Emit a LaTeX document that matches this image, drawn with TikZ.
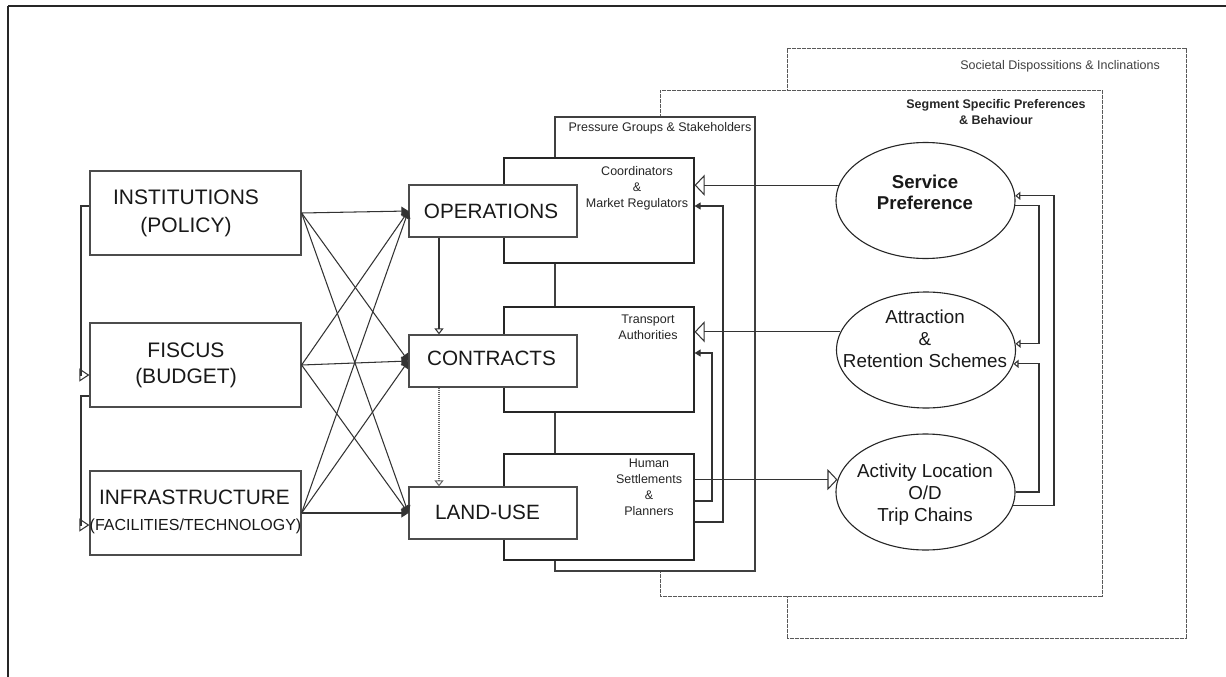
\documentclass[tikz,border=0pt]{standalone}
\usepackage{fontspec}
\setmainfont{Liberation Sans}
\usetikzlibrary{arrows.meta,shapes.geometric}
\begin{document}
\begin{tikzpicture}[x=1pt,y=-1pt,
  ln/.style={draw=black!80, line width=1.05pt},
  box/.style={rectangle, draw=black!70, line width=1.2pt, fill=white, inner sep=0pt},
  sbox/.style={rectangle, draw=black!85, line width=1.2pt, fill=white, inner sep=0pt, minimum width=190pt},
  layer/.style={rectangle, draw=black!65, line width=0.9pt, dash pattern=on 0.8pt off 0.45pt, fill=white, inner sep=0pt},
  ell/.style={ellipse, draw=black!85, line width=1.1pt, fill=white, minimum width=179pt, minimum height=116pt, inner sep=0pt},
  bigt/.style={font=\fontsize{21}{28}\selectfont, align=center, inner sep=0pt, text=black!90},
  midt/.style={font=\fontsize{20.7}{24}\selectfont, align=center, inner sep=0pt, text=black!90},
  smallt/.style={font=\fontsize{12.5}{16}\selectfont, align=center, inner sep=0pt, text=black!85},
  ellt/.style={font=\fontsize{18.8}{22}\selectfont, align=center, inner sep=0pt, text=black!90},
  crossarr/.style={ln, -{Triangle[length=7pt,width=9pt]}},
  bigopen/.style={ln, -{Triangle[open,length=10pt,width=21pt]}},
  smfill/.style={ln, -{Triangle[length=6pt,width=7pt]}},
  smopen/.style={ln, -{Triangle[open,length=5pt,width=8pt]}},
  vopen/.style={ln, -{Triangle[open,length=6pt,width=9pt]}},
  lopen/.style={ln, -{Triangle[open,length=10pt,width=13pt]}}
]
\useasboundingbox (0,0) rectangle (1226,677);
\fill[white] (0,0) rectangle (1226,677);
% outer frame
\draw[black!85, line width=1.8pt] (8,6) -- (1226,6);
\draw[black!85, line width=1.3pt] (8,6) -- (8,677);

% layers
\node[layer, minimum width=399pt, minimum height=590pt] (soc) at (986.5,343) {};
\node[layer, minimum width=442pt, minimum height=506pt] (seg) at (881,343) {};
\node[box, draw=black!75, minimum width=200pt, minimum height=454pt] (pres) at (655,344) {};

\node[smallt, anchor=east, text=black!75] (lsoc) at (1160,66) {Societal Dispossitions \& Inclinations};
\node[smallt, font=\fontsize{12.5}{16}\selectfont\bfseries] (lseg) at (996,112) {Segment Specific Preferences\\\& Behaviour};
\node[smallt] (lpres) at (660,128) {Pressure Groups \& Stakeholders};

% ellipses
\node[ell] (sp) at (925.5,200.5) {};
\node[ell] (ar) at (926,350) {};
\node[ell] (ac) at (925.5,492) {};
\node[ellt, font=\fontsize{18.6}{21}\selectfont\bfseries] (tsp) at (925,192.5) {Service\\Preference};
\node[ellt] (tar) at (925,339) {Attraction\\\&\\Retention Schemes};
\node[ellt] (tac) at (925,495) {Activity Location\\O/D\\Trip Chains};

% stakeholder boxes
\node[sbox, minimum height=105pt] (s1) at (599,210.5) {};
\node[sbox, minimum height=105pt] (s2) at (599,359.5) {};
\node[sbox, minimum height=106pt] (s3) at (599,507) {};
\node[smallt] (l1) at (637,188) {Coordinators\\\&\\Market Regulators};
\node[smallt] (l2) at (648,327.5) {Transport\\Authorities};
\node[smallt] (l3) at (649,487) {Human\\Settlements\\\&\\Planners};

% middle boxes
\node[box, minimum width=168pt, minimum height=52pt] (ops) at (493,211) {};
\node[box, minimum width=168pt, minimum height=52pt] (con) at (493,361) {};
\node[box, minimum width=168pt, minimum height=52pt] (lu) at (493,513) {};
\node[midt] (tops) at (491,211) {OPERATIONS};
\node[midt] (tcon) at (491.5,358) {CONTRACTS};
\node[midt] (tlu) at (487.5,512) {LAND-USE};

% left boxes
\node[box, minimum width=211pt, minimum height=84pt] (inst) at (195.5,213) {};
\node[box, minimum width=211pt, minimum height=84pt] (fis) at (195.5,365) {};
\node[box, minimum width=211pt, minimum height=84pt] (infra) at (195.5,513) {};
\node[bigt] (tinst) at (186,213) {INSTITUTIONS\\(POLICY)};
\node[bigt, font=\fontsize{21}{26}\selectfont] (tfis) at (186,365) {FISCUS\\(BUDGET)};
\node[bigt, font=\fontsize{20.8}{24}\selectfont] (tinfra1) at (194.5,497) {INFRASTRUCTURE};
\node[bigt, font=\fontsize{16}{18}\selectfont] (tinfra2) at (195.5,526) {(FACILITIES/TECHNOLOGY)};

% crossing connectors
\foreach \a in {inst,fis,infra}{
  \foreach \b in {ops,con,lu}{
    \draw[crossarr] (\a.east) -- (\b.west);
  }
}

% left feedback
\coordinate (lb) at (81,300);
\coordinate (iw) at ([yshift=7pt]inst.west);
\coordinate (fwin) at ([yshift=-10pt]fis.west);
\coordinate (fwout) at ([yshift=-31pt]fis.west);
\coordinate (infin) at ([yshift=-12pt]infra.west);
\draw[lopen] (iw) -- (iw -| lb) -- (fwin -| lb) -- (fwin);
\draw[lopen] (fwout) -- (fwout -| lb) -- (infin -| lb) -- (infin);

% middle verticals
\coordinate (vb) at (439,300);
\draw[vopen] (ops.south -| vb) -- (con.north -| vb);
\draw[vopen, draw=black!60, dash pattern=on 1pt off 1pt] (con.south -| vb) -- (lu.north -| vb);

% stakeholder feedback
\coordinate (ba) at (723,300);
\coordinate (bb) at (712,300);
\coordinate (s3a) at ([yshift=-15pt]s3.east);
\coordinate (s3b) at ([yshift=6pt]s3.east);
\coordinate (s1in) at ([yshift=4.5pt]s1.east);
\coordinate (s2in) at ([yshift=6.5pt]s2.east);
\draw[smfill] (s3a) -- (s3a -| ba) -- (s1in -| ba) -- (s1in);
\draw[smfill] (s3b) -- (s3b -| bb) -- (s2in -| bb) -- (s2in);

% ellipses to stakeholders
\draw[bigopen] (sp.170) -- (sp.170 -| s1.east);
\draw[bigopen] (ar.168) -- (ar.168 -| s2.east);
\draw[bigopen] (s3.east |- ac.172) -- (ac.172);

% feedback among ellipses
\coordinate (r1) at (1054,300);
\coordinate (r2) at (1039,300);
\draw[smopen] (ac.-9) -- (ac.-9 -| r1) -- (sp.3.5 -| r1) -- (sp.3.5);
\draw[smopen] (sp.-3.5) -- (sp.-3.5 -| r2) -- (ar.4.5 -| r2) -- (ar.4.5);
\draw[smopen] (ac.0.6) -- (ac.0.6 -| r2) -- (ar.-9 -| r2) -- (ar.-9);
\end{tikzpicture}
\end{document}
